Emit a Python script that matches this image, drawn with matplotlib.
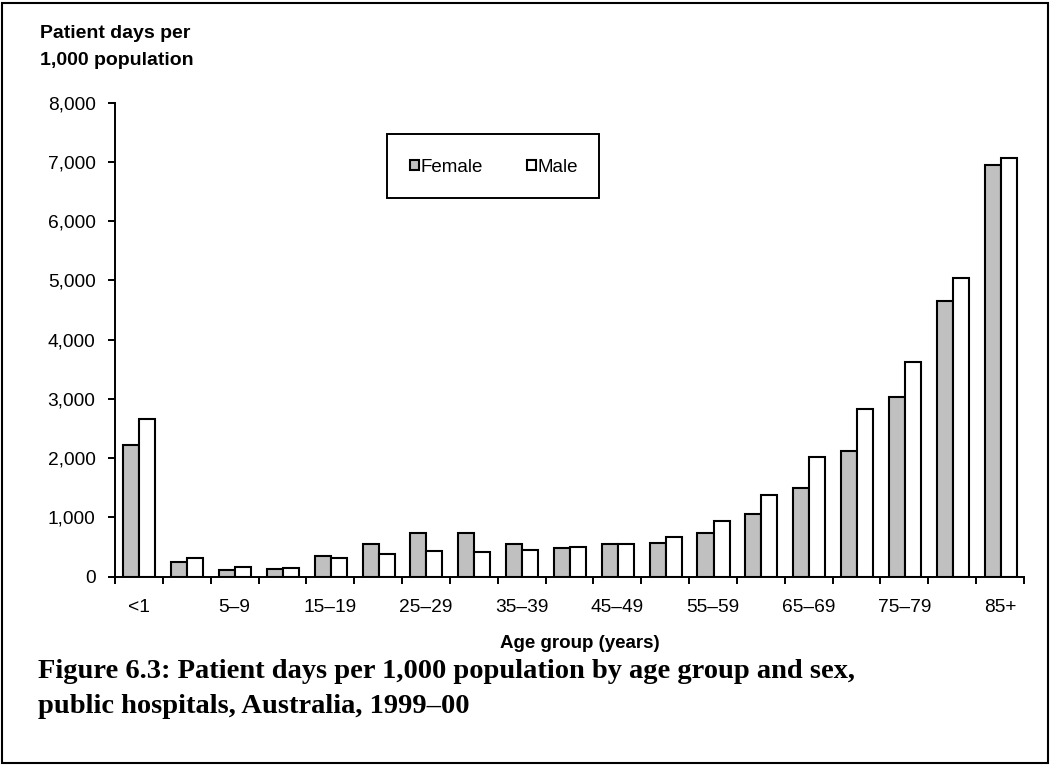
import matplotlib
matplotlib.use("Agg")
import matplotlib.pyplot as plt
from matplotlib.patches import Rectangle
import numpy as np

categories = ["<1", "1–4", "5–9", "10–14", "15–19", "20–24", "25–29", "30–34",
              "35–39", "40–44", "45–49", "50–54", "55–59", "60–64", "65–69",
              "70–74", "75–79", "80–84", "85+"]
female = [2230, 250, 115, 135, 345, 555, 730, 740, 555, 485, 545, 565, 745,
          1060, 1500, 2115, 3025, 4655, 6955]
male = [2655, 320, 160, 150, 315, 385, 440, 425, 455, 495, 555, 665, 940,
        1380, 2020, 2830, 3630, 5040, 7060]
yticks = [0, 1000, 2000, 3000, 4000, 5000, 6000, 7000, 8000]

plt.rcParams['font.family'] = ['Liberation Sans', 'DejaVu Sans']

W, H = 1050, 765
fig = plt.figure(figsize=(W / 100, H / 100), dpi=100)
ax = fig.add_axes([115 / W, 1 - 576.7 / H, (1024 - 115) / W, (576.7 - 102.7) / H])

x = np.arange(len(categories))
bw = 0.335
lw = 1.5
b1 = ax.bar(x - bw / 2 + 0.01, female, bw, color="#c0c0c0", edgecolor="black",
            linewidth=lw, label="Female")
b2 = ax.bar(x + bw / 2 + 0.01, male, bw, color="white", edgecolor="black",
            linewidth=lw, label="Male")

fs = 13.8
ax.set_xlim(-0.5, len(categories) - 0.5)
ax.set_ylim(0, 8000)
ax.set_yticks(yticks)
ax.set_yticklabels([f"{v:,}" for v in yticks], fontsize=fs)
ax.set_xticks(np.arange(len(categories) + 1) - 0.5)
ax.set_xticklabels([])
ax.set_xticks(x, minor=True)
ax.set_xticklabels([c if i % 2 == 0 else "" for i, c in enumerate(categories)],
                   minor=True, fontsize=fs)
ax.tick_params(axis="x", which="minor", length=0, pad=16)
ax.tick_params(axis="x", which="major", direction="out", length=5, width=1.4)
ax.tick_params(axis="y", direction="out", length=5, width=1.4, pad=9)
for s in ["top", "right"]:
    ax.spines[s].set_visible(False)
for s in ["left", "bottom"]:
    ax.spines[s].set_linewidth(1.4)

fig.text(40 / W, 1 - 47 / H, "Patient days per\n1,000 population", fontsize=14,
         fontweight="bold", ha="left", va="center", linespacing=1.75)
fig.text(580 / W, 1 - 643 / H, "Age group (years)", fontsize=13.5,
         fontweight="bold", ha="center", va="center")
fig.text(38 / W, 1 - 689 / H,
         "Figure 6.3: Patient days per 1,000 population by age group and sex,\n"
         "public hospitals, Australia, 1999–00",
         fontsize=20.5, fontweight="bold", family=["Liberation Serif", "DejaVu Serif"],
         ha="left", va="center", linespacing=1.5)

# legend
fig.patches.append(Rectangle((387 / W, 1 - 198 / H), (599 - 387) / W, (198 - 134) / H,
                             transform=fig.transFigure, fill=False, edgecolor="black",
                             linewidth=1.4))
leg = fig.legend(handles=[b1, b2], loc="center", bbox_to_anchor=(494 / W, 1 - 167 / H),
                 ncol=2, frameon=False, fontsize=13.5, handlelength=0.5,
                 handleheight=0.5, handletextpad=0.1, columnspacing=2.3)

# figure border
fig.patches.append(Rectangle((2 / W, 2 / H), (1046) / W, (760) / H,
                             transform=fig.transFigure, fill=False, edgecolor="black",
                             linewidth=1.5))

fig.savefig("out.png", dpi=100)
